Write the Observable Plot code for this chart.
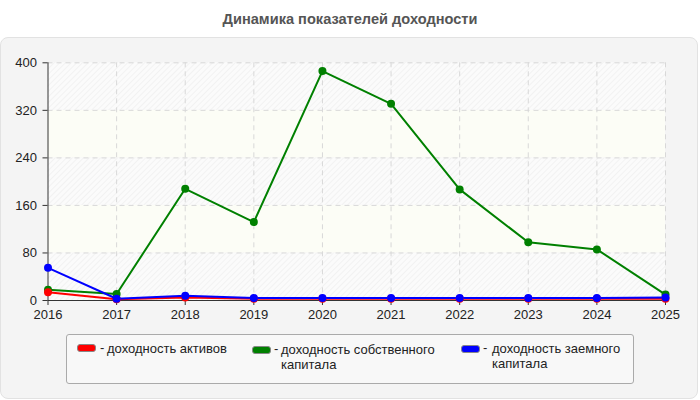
<!DOCTYPE html>
<html>
<head>
<meta charset="utf-8">
<script src="https://cdn.jsdelivr.net/npm/d3@7"></script>
<script src="https://cdn.jsdelivr.net/npm/@observablehq/plot@0.6"></script>
<style>
  html, body { margin: 0; padding: 0; background: #fff; }
  body { width: 700px; height: 400px; position: relative; overflow: hidden; font-family: "Liberation Sans", Arial, sans-serif; }
  #title { position: absolute; top: 11px; left: 0; width: 700px; text-align: center; font-size: 14.6px; font-weight: bold; color: #555; }
  #panel { position: absolute; left: 0px; top: 37px; width: 696px; height: 360px; background: #f4f4f4; border: 1px solid #e2e2e2; border-radius: 8px; }
  #chart { position: absolute; left: 0; top: 37px; }
  #legend { position: absolute; left: 66px; top: 334px; width: 566px; height: 48px; background: #f8f8f8; border: 1px solid #aaa; border-radius: 3px; font-size: 13px; color: #222; }
  .sw { position: absolute; width: 17px; height: 6px; border: 1px solid #888; border-radius: 3px; }
  .txt { position: absolute; white-space: nowrap; line-height: 15px; }
</style>
</head>
<body>
<div id="title">Динамика показателей доходности</div>
<div id="panel"></div>
<div id="chart"></div>
<div id="legend"></div>
<script>
const years = [2016, 2017, 2018, 2019, 2020, 2021, 2022, 2023, 2024, 2025];
const roa = [14, 2, 5, 3, 3, 3, 3, 3, 3, 3];
const roe = [18, 11, 188, 132, 386, 331, 187, 98, 86, 10];
const rod = [55, 3, 8, 4, 4, 4, 4, 4, 4, 5];
const yTicks = [0, 80, 160, 240, 320, 400];
const seriesNames = ["доходность активов", "доходность собственного\nкапитала", "доходность заемного\nкапитала"];
const seriesColors = ["red", "green", "blue"];

const seriesValues = [roa, roe, rod];
const drawOrder = [1, 0, 2];
const data = drawOrder.flatMap(s => years.map((y, i) => ({year: y, value: seriesValues[s][i], s})));
const bands = yTicks.slice(0, -1).map((t, i) => ({y1: t, y2: yTicks[i + 1], alt: i % 2 === 1}));

const plot = Plot.plot({
  width: 700,
  height: 300,
  marginLeft: 47.5,
  marginRight: 35,
  marginTop: 25.3,
  marginBottom: 37,
  style: {background: "transparent", fontFamily: "Liberation Sans, Arial, sans-serif", fontSize: "13px", color: "#222"},
  x: {domain: [2016, 2025], ticks: years, tickFormat: d => String(d), label: null},
  y: {domain: [0, 400], ticks: yTicks, label: null},
  marks: [
    Plot.rect(bands, {x1: 2016, x2: 2025, y1: "y1", y2: "y2", fill: d => d.alt ? "#fcfdf6" : "url(#hatch)"}),
    Plot.gridX(years.slice(1), {stroke: "#d8d8d8", strokeOpacity: 1, strokeDasharray: "5,4"}),
    Plot.gridY(yTicks.slice(1), {stroke: "#d8d8d8", strokeOpacity: 1, strokeDasharray: "5,4"}),
    Plot.axisX({ticks: years, tickSize: 5, tickPadding: 4, tickFormat: d => String(d), fontSize: 13, stroke: "#333"}),
    Plot.axisY({ticks: yTicks, tickSize: 5, tickPadding: 6, fontSize: 13, stroke: "#333"}),
    Plot.ruleY([0], {stroke: "#333"}),
    Plot.ruleX([2016], {stroke: "#333"}),
    Plot.line(data, {x: "year", y: "value", z: "s", stroke: d => seriesColors[d.s], strokeWidth: 2}),
    Plot.dot(data, {x: "year", y: "value", fill: d => seriesColors[d.s], r: 4})
  ]
});

const svg = d3.select(plot);
const defs = svg.insert("defs", ":first-child");
const pat = defs.append("pattern").attr("id", "hatch").attr("patternUnits", "userSpaceOnUse")
  .attr("width", 4).attr("height", 4).attr("patternTransform", "rotate(45)");
pat.append("rect").attr("width", 4).attr("height", 4).attr("fill", "#fbfbfb");
pat.append("line").attr("x1", 0).attr("y1", 0).attr("x2", 0).attr("y2", 4).attr("stroke", "#efefef").attr("stroke-width", 1.5);
document.getElementById("chart").appendChild(plot);

// legend layout (positions relative to legend box)
const legend = document.getElementById("legend");
const swLeft = [10, 185, 394];
const swTop = [9, 11, 10];
const dashLeft = [33, 207, 416];
const textLeft = [40, 214, 425];
const textTop = [6, 7, 6];
seriesNames.forEach((n, i) => {
  const sw = document.createElement("div");
  sw.className = "sw";
  sw.style.background = seriesColors[i];
  sw.style.left = swLeft[i] + "px";
  sw.style.top = swTop[i] + "px";
  legend.appendChild(sw);
  const dash = document.createElement("div");
  dash.className = "txt";
  dash.textContent = "-";
  dash.style.left = dashLeft[i] + "px";
  dash.style.top = (textTop[i] - 1) + "px";
  legend.appendChild(dash);
  n.split("\n").forEach((line, k) => {
    const lab = document.createElement("div");
    lab.className = "txt";
    lab.style.left = textLeft[i] + "px";
    lab.style.top = (textTop[i] + k * 15) + "px";
    lab.textContent = line;
    legend.appendChild(lab);
  });
});
</script>
</body>
</html>
